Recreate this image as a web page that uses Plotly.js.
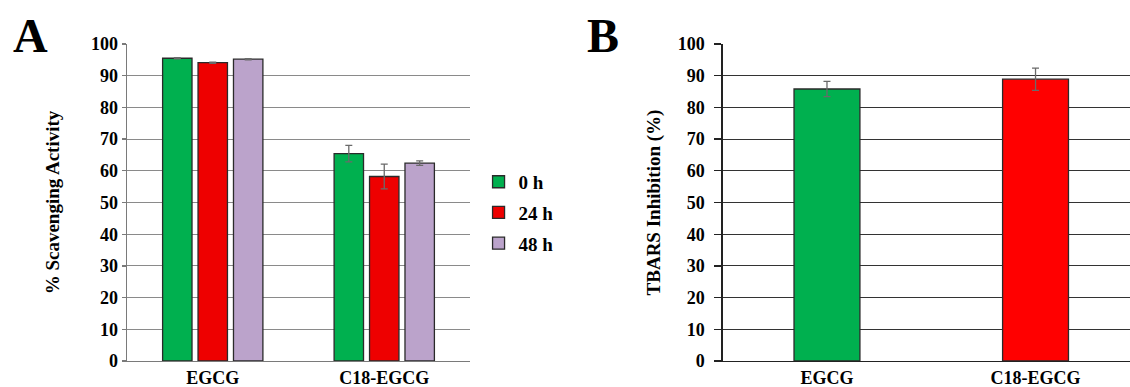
<!DOCTYPE html>
<html>
<head>
<meta charset="utf-8">
<script src="https://cdn.plot.ly/plotly-3.0.1.min.js"></script>
<style>html,body{margin:0;padding:0;background:#fff;}#chart{width:1130px;height:387px;}</style>
</head>
<body>
<div id="chart"></div>
<script>
// ---- data ----
const categories = ['EGCG', 'C18-EGCG'];
const seriesNames = ['0 h', '24 h', '48 h'];
const scav0h = [95.5, 65.4];
const scav24h = [94.1, 58.2];
const scav48h = [95.2, 62.4];
const err0h = [0.2, 2.6];
const err24h = [0.2, 3.9];
const err48h = [0.2, 0.7];
const tbars = [85.8, 88.9];
const tbarsErr = [2.4, 3.5];
const yTicks = [0, 10, 20, 30, 40, 50, 60, 70, 80, 90, 100];

// ---- styles ----
const colorsA = ['#00B04F', '#EE0000', '#BBA3CB'];
const colorsB = ['#00B04F', '#FF0000'];
const serif = 'Liberation Serif, Times New Roman, serif';

const scavValues = [scav0h, scav24h, scav48h];
const scavErrs = [err0h, err24h, err48h];

const traces = seriesNames.map((name, i) => ({
  type: 'bar',
  name: name,
  x: categories,
  y: scavValues[i],
  xaxis: 'x', yaxis: 'y',
  legendgroup: 'g' + i,
  marker: {color: colorsA[i], line: {color: '#2a2a2a', width: 1.3}},
  error_y: {type: 'data', array: scavErrs[i], visible: true, color: '#6a6a6a', thickness: 1.3, width: 3.5}
}));

traces.push({
  type: 'bar',
  x: categories,
  y: tbars,
  xaxis: 'x2', yaxis: 'y2',
  width: 0.316,
  showlegend: false,
  marker: {color: colorsB, line: {color: '#2a2a2a', width: 1.3}},
  error_y: {type: 'data', array: tbarsErr, visible: true, color: '#6a6a6a', thickness: 1.3, width: 3.5}
});

const tickFont = {family: serif, size: 18, color: '#000', weight: 'bold'};
const titleFont = {family: serif, size: 19, color: '#000', weight: 'bold'};

const layout = {
  width: 1130, height: 387,
  margin: {l: 0, r: 0, t: 44, b: 26, pad: 0},
  paper_bgcolor: '#fff', plot_bgcolor: '#fff',
  barmode: 'group',
  bargap: 0.38,
  bargroupgap: 0.17,
  showlegend: true,
  legend: {
    x: 0.4235, y: 0.625, xanchor: 'left', yanchor: 'top',
    font: {family: serif, size: 19, color: '#000', weight: 'bold'},
    tracegroupgap: 3,
    traceorder: 'grouped',
    bgcolor: 'rgba(0,0,0,0)'
  },
  xaxis: {
    domain: [127 / 1130, 470 / 1130],
    range: [-0.5, 1.5],
    showline: true, linecolor: '#7a7a7a', linewidth: 1.3,
    showgrid: false, ticks: '', zeroline: false,
    tickfont: tickFont, ticklabelstandoff: 0
  },
  yaxis: {
    range: [0, 100], tickvals: yTicks,
    showline: true, linecolor: '#7a7a7a', linewidth: 1.3,
    showgrid: true, gridcolor: '#8a8a8a', gridwidth: 1,
    ticks: 'outside', ticklen: 4, tickcolor: '#7a7a7a', tickwidth: 1.3,
    zeroline: false, tickfont: tickFont, ticklabelstandoff: 0,
    title: {text: '% Scavenging Activity', font: titleFont, standoff: 26}
  },
  xaxis2: {
    domain: [722.7 / 1130, 1],
    range: [-0.5, 1.453],
    anchor: 'y2',
    showline: true, linecolor: '#222', linewidth: 1.3,
    showgrid: false, ticks: '', zeroline: false,
    tickfont: tickFont, ticklabelstandoff: 0
  },
  yaxis2: {
    anchor: 'x2',
    range: [0, 100], tickvals: yTicks,
    showline: true, linecolor: '#222', linewidth: 1.3,
    showgrid: true, gridcolor: '#333', gridwidth: 1,
    ticks: 'outside', ticklen: 7, tickcolor: '#222', tickwidth: 1.3,
    zeroline: false, tickfont: tickFont, ticklabelstandoff: 6,
    title: {text: 'TBARS Inhibition (%)', font: titleFont, standoff: 12}
  },
  annotations: [
    {text: '<b>A</b>', xref: 'paper', yref: 'paper', x: 11 / 1130, y: 1, xanchor: 'left', yanchor: 'bottom',
     yshift: -20, showarrow: false, font: {family: serif, size: 48, color: '#000'}},
    {text: '<b>B</b>', xref: 'paper', yref: 'paper', x: 585 / 1130, y: 1, xanchor: 'left', yanchor: 'bottom',
     yshift: -20, showarrow: false, font: {family: serif, size: 48, color: '#000'}}
  ]
};

Plotly.newPlot('chart', traces, layout, {displayModeBar: false, staticPlot: true});
</script>
</body>
</html>
